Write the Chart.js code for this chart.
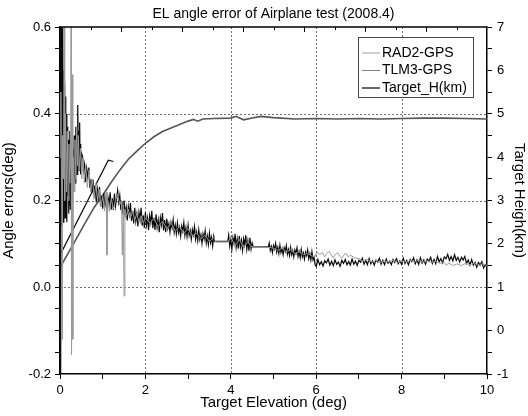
<!DOCTYPE html>
<html>
<head>
<meta charset="utf-8">
<script src="https://cdn.jsdelivr.net/npm/chart.js@4.4.1/dist/chart.umd.min.js"></script>
<style>
  body { margin: 0; background: #fff; }
  .chart-container { position: relative; width: 528px; height: 416px; }
</style>
</head>
<body>
<div class="chart-container"><canvas id="elChart"></canvas></div>
<script>
// TLM3-GPS (dark noisy trace); first three points are the jump line near the start
const tlmElev = [
  1.25, 1.13, 0.00, 0.01, 0.02, 0.03, 0.04, 0.05, 0.06, 0.07,
  0.08, 0.09, 0.10, 0.11, 0.12, 0.13, 0.14, 0.15, 0.16, 0.17,
  0.18, 0.19, 0.20, 0.21, 0.22, 0.23, 0.24, 0.25, 0.26, 0.27,
  0.28, 0.29, 0.30, 0.31, 0.32, 0.33, 0.34, 0.35, 0.36, 0.37,
  0.38, 0.39, 0.40, 0.41, 0.42, 0.43, 0.44, 0.45, 0.46, 0.47,
  0.48, 0.49, 0.50, 0.525, 0.55, 0.575, 0.60, 0.625, 0.65, 0.675,
  0.70, 0.725, 0.75, 0.775, 0.80, 0.825, 0.85, 0.875, 0.90, 0.925,
  0.95, 0.975, 1.00, 1.025, 1.05, 1.075, 1.10, 1.125, 1.15, 1.175,
  1.20, 1.225, 1.25, 1.275, 1.30, 1.325, 1.35, 1.375, 1.40, 1.425,
  1.45, 1.475, 1.50, 1.525, 1.55, 1.575, 1.60, 1.625, 1.65, 1.675,
  1.70, 1.725, 1.75, 1.775, 1.80, 1.825, 1.85, 1.875, 1.90, 1.925,
  1.95, 1.975, 2.00, 2.025, 2.05, 2.075, 2.10, 2.125, 2.15, 2.175,
  2.20, 2.225, 2.25, 2.275, 2.30, 2.325, 2.35, 2.375, 2.40, 2.425,
  2.45, 2.475, 2.50, 2.525, 2.55, 2.575, 2.60, 2.625, 2.65, 2.675,
  2.70, 2.725, 2.75, 2.775, 2.80, 2.825, 2.85, 2.875, 2.90, 2.925,
  2.95, 2.975, 3.00, 3.025, 3.05, 3.075, 3.10, 3.125, 3.15, 3.175,
  3.20, 3.225, 3.25, 3.275, 3.30, 3.325, 3.35, 3.375, 3.40, 3.425,
  3.45, 3.475, 3.50, 3.525, 3.55, 3.575, 3.60, 3.625, 3.65, 3.93,
  3.95, 3.975, 4.00, 4.025, 4.05, 4.075, 4.10, 4.125, 4.15, 4.175,
  4.20, 4.225, 4.25, 4.275, 4.30, 4.325, 4.35, 4.375, 4.40, 4.425,
  4.45, 4.475, 4.50, 4.525, 4.88, 4.90, 4.925, 4.95, 4.975, 5.00,
  5.025, 5.05, 5.075, 5.10, 5.125, 5.15, 5.175, 5.20, 5.225, 5.25,
  5.275, 5.30, 5.325, 5.35, 5.375, 5.40, 5.425, 5.45, 5.475, 5.50,
  5.525, 5.55, 5.575, 5.60, 5.625, 5.65, 5.675, 5.70, 5.725, 5.75,
  5.775, 5.80, 5.825, 5.85, 5.875, 5.90, 5.925, 5.95, 5.975, 6.00,
  6.04, 6.08, 6.12, 6.16, 6.20, 6.24, 6.28, 6.32, 6.36, 6.40,
  6.44, 6.48, 6.52, 6.56, 6.60, 6.64, 6.68, 6.72, 6.76, 6.80,
  6.84, 6.88, 6.92, 6.96, 7.00, 7.04, 7.08, 7.12, 7.16, 7.20,
  7.24, 7.28, 7.32, 7.36, 7.40, 7.44, 7.48, 7.52, 7.56, 7.60,
  7.64, 7.68, 7.72, 7.76, 7.80, 7.84, 7.88, 7.92, 7.96, 8.00,
  8.04, 8.08, 8.12, 8.16, 8.20, 8.24, 8.28, 8.32, 8.36, 8.40,
  8.44, 8.48, 8.52, 8.56, 8.60, 8.64, 8.68, 8.72, 8.76, 8.80,
  8.84, 8.88, 8.92, 8.96, 9.00, 9.04, 9.08, 9.12, 9.16, 9.20,
  9.24, 9.28, 9.32, 9.36, 9.40, 9.44, 9.48, 9.52, 9.56, 9.60,
  9.64, 9.68, 9.72, 9.76, 9.80, 9.84, 9.88, 9.92, 9.96, 10.00
];
const tlmErr = [
  0.290, 0.293, 0.074, 0.650, -0.250, 0.650, 0.140, 0.620, 0.170, 0.580,
  0.150, 0.500, 0.190, 0.470, 0.160, 0.440, 0.200, 0.400, 0.150, 0.370,
  0.210, 0.340, 0.170, 0.310, 0.190, 0.360, 0.180, 0.300, 0.210, 0.330,
  0.200, 0.280, 0.230, 0.320, 0.220, 0.350, 0.250, 0.300, 0.240, 0.370,
  0.270, 0.340, 0.260, 0.390, 0.420, 0.300, 0.360, 0.270, 0.380, 0.290,
  0.330, 0.260, 0.310, 0.303, 0.270, 0.284, 0.243, 0.274, 0.254, 0.276,
  0.229, 0.249, 0.217, 0.248, 0.213, 0.228, 0.196, 0.226, 0.206, 0.231,
  0.188, 0.211, 0.181, 0.217, 0.186, 0.203, 0.174, 0.207, 0.191, 0.219,
  0.179, 0.205, 0.178, 0.216, 0.187, 0.206, 0.224, 0.196, 0.212, 0.178,
  0.199, 0.167, 0.200, 0.168, 0.184, 0.154, 0.186, 0.168, 0.194, 0.153,
  0.176, 0.147, 0.183, 0.152, 0.169, 0.140, 0.173, 0.156, 0.183, 0.142,
  0.166, 0.137, 0.173, 0.143, 0.160, 0.132, 0.165, 0.149, 0.176, 0.136,
  0.160, 0.132, 0.168, 0.138, 0.155, 0.127, 0.160, 0.144, 0.171, 0.131,
  0.155, 0.127, 0.158, 0.136, 0.147, 0.127, 0.149, 0.137, 0.156, 0.127,
  0.143, 0.123, 0.148, 0.126, 0.138, 0.118, 0.141, 0.129, 0.149, 0.120,
  0.137, 0.117, 0.143, 0.120, 0.131, 0.111, 0.133, 0.121, 0.140, 0.111,
  0.127, 0.107, 0.132, 0.110, 0.121, 0.101, 0.123, 0.111, 0.130, 0.102,
  0.118, 0.099, 0.125, 0.103, 0.115, 0.095, 0.118, 0.105, 0.106, 0.106,
  0.120, 0.095, 0.110, 0.088, 0.114, 0.101, 0.123, 0.092, 0.111, 0.089,
  0.118, 0.093, 0.108, 0.085, 0.111, 0.097, 0.120, 0.088, 0.107, 0.084,
  0.114, 0.088, 0.102, 0.093, 0.093, 0.102, 0.085, 0.094, 0.080, 0.096,
  0.088, 0.101, 0.081, 0.092, 0.078, 0.097, 0.080, 0.089, 0.075, 0.091,
  0.083, 0.096, 0.076, 0.087, 0.073, 0.092, 0.075, 0.084, 0.070, 0.086,
  0.078, 0.091, 0.071, 0.082, 0.068, 0.087, 0.070, 0.079, 0.065, 0.081,
  0.073, 0.086, 0.066, 0.077, 0.063, 0.082, 0.063, 0.069, 0.052, 0.048,
  0.064, 0.052, 0.059, 0.049, 0.061, 0.056, 0.065, 0.051, 0.060, 0.050,
  0.063, 0.053, 0.058, 0.048, 0.062, 0.055, 0.064, 0.052, 0.059, 0.051,
  0.065, 0.053, 0.060, 0.050, 0.062, 0.058, 0.067, 0.053, 0.062, 0.052,
  0.066, 0.054, 0.061, 0.051, 0.063, 0.058, 0.067, 0.053, 0.062, 0.052,
  0.065, 0.055, 0.060, 0.052, 0.064, 0.057, 0.066, 0.054, 0.061, 0.053,
  0.067, 0.055, 0.062, 0.052, 0.064, 0.059, 0.068, 0.054, 0.063, 0.053,
  0.068, 0.056, 0.063, 0.053, 0.065, 0.060, 0.069, 0.055, 0.064, 0.054,
  0.071, 0.059, 0.066, 0.056, 0.070, 0.066, 0.076, 0.062, 0.071, 0.061,
  0.075, 0.062, 0.069, 0.058, 0.069, 0.063, 0.071, 0.055, 0.063, 0.051,
  0.064, 0.051, 0.057, 0.046, 0.057, 0.051, 0.059, 0.044, 0.052, 0.046
];

// RAD2-GPS (light grey trace with spikes)
const radElev = [
  0.00, 0.02, 0.04, 0.05, 0.06, 0.08, 0.10, 0.11, 0.13, 0.15,
  0.17, 0.19, 0.21, 0.23, 0.25, 0.26, 0.27, 0.29, 0.30, 0.31,
  0.33, 0.35, 0.37, 0.39, 0.41, 0.43, 0.45, 0.48, 0.51, 0.54,
  0.57, 0.60, 0.64, 0.68, 0.72, 0.76, 0.80, 0.84, 0.88, 0.92,
  0.96, 1.00, 1.04, 1.08, 1.10, 1.12, 1.16, 1.20, 1.25, 1.30,
  1.35, 1.40, 1.44, 1.46, 1.48, 1.50, 1.52, 1.56, 1.60, 1.65,
  1.70, 1.75, 1.80, 1.85, 1.90, 1.95, 2.00, 2.10, 2.20, 2.30,
  2.40, 2.50, 2.60, 2.70, 2.80, 2.90, 3.00, 3.10, 3.20, 3.30,
  3.40, 3.50, 3.60, 3.65, 3.93, 4.00, 4.10, 4.20, 4.30, 4.40,
  4.50, 4.55, 4.88, 5.00, 5.10, 5.20, 5.30, 5.40, 5.50, 5.60,
  5.70, 5.80, 5.90, 5.97, 6.02, 6.08, 6.15, 6.20, 6.25, 6.30,
  6.35, 6.40, 6.45, 6.50, 6.55, 6.60, 6.65, 6.70, 6.75, 6.80,
  6.90, 7.00, 7.10, 7.20, 7.30, 7.40, 7.50, 7.60, 7.70, 7.80,
  7.90, 8.00, 8.10, 8.20, 8.30, 8.40, 8.50, 8.60, 8.70, 8.80,
  8.90, 9.00, 9.05, 9.10, 9.20, 9.30, 9.40, 9.50, 9.60, 9.70,
  9.80, 9.90, 10.00
];
const radErr = [
  0.300, 0.450, 0.200, -0.120, 0.350, 0.250, 0.650, 0.200, 0.400, 0.220,
  0.360, 0.200, 0.330, 0.240, 0.300, 0.650, -0.155, 0.490, -0.120, 0.300,
  0.220, 0.340, 0.250, 0.370, 0.280, 0.350, 0.270, 0.320, 0.250, 0.300,
  0.240, 0.280, 0.230, 0.270, 0.220, 0.250, 0.205, 0.240, 0.200, 0.225,
  0.185, 0.210, 0.180, 0.220, 0.074, 0.200, 0.175, 0.205, 0.180, 0.200,
  0.215, 0.190, 0.200, 0.074, 0.190, -0.020, 0.180, 0.165, 0.180, 0.160,
  0.175, 0.155, 0.170, 0.150, 0.165, 0.148, 0.160, 0.148, 0.158, 0.140,
  0.152, 0.135, 0.148, 0.130, 0.140, 0.125, 0.135, 0.118, 0.125, 0.112,
  0.120, 0.105, 0.115, 0.104, 0.104, 0.115, 0.095, 0.110, 0.092, 0.105,
  0.092, 0.093, 0.092, 0.090, 0.085, 0.090, 0.082, 0.086, 0.078, 0.082,
  0.075, 0.078, 0.072, 0.070, 0.082, 0.075, 0.080, 0.070, 0.078, 0.083,
  0.075, 0.068, 0.076, 0.080, 0.072, 0.067, 0.075, 0.078, 0.070, 0.074,
  0.068, 0.066, 0.060, 0.064, 0.058, 0.062, 0.057, 0.061, 0.058, 0.062,
  0.057, 0.061, 0.058, 0.062, 0.059, 0.062, 0.058, 0.061, 0.057, 0.060,
  0.055, 0.057, 0.050, 0.056, 0.050, 0.054, 0.050, 0.055, 0.052, 0.056,
  0.050, 0.054, 0.050
];

// Target height (km), right axis
const heightElev = [0.0, 0.2, 0.4, 0.6, 0.8, 1.0, 1.2, 1.4, 1.6, 1.8, 2.0, 2.2, 2.4, 2.6, 2.8, 3.0,
  3.13, 3.22, 3.35, 3.6, 4.0, 4.12, 4.3, 4.5, 4.7, 5.0, 5.5, 6.0, 6.5, 7.0, 7.5, 8.0, 8.5, 9.0, 9.5, 10.0];
const heightKm = [1.45, 1.80, 2.15, 2.50, 2.84, 3.12, 3.42, 3.70, 3.95, 4.14, 4.32, 4.47, 4.59, 4.67, 4.75, 4.83,
  4.87, 4.83, 4.88, 4.89, 4.90, 4.94, 4.86, 4.90, 4.94, 4.91, 4.88, 4.89, 4.88, 4.89, 4.88, 4.89, 4.90, 4.90, 4.89, 4.88];

// dotted grid positions
const gridElev = [2, 4, 6, 8];
const gridErr = [0.0, 0.2, 0.4];

const seriesNames = ['RAD2-GPS', 'TLM3-GPS', 'Target_H(km)'];
const seriesColors = ['#9a9a9a', '#0a0a0a', '#555555'];
const chartTitle = 'EL angle error of Airplane test (2008.4)';

const FONT = 'Arial, "Liberation Sans", sans-serif';
const toPoints = (xs, ys) => xs.map((x, i) => ({ x: x, y: ys[i] }));
const isMult = (v, s) => Math.abs(v / s - Math.round(v / s)) < 1e-6;

// dotted grid drawn under the data
const dottedGrid = {
  id: 'dottedGrid',
  beforeDatasetsDraw(chart) {
    const { ctx, chartArea: a, scales } = chart;
    ctx.save();
    ctx.strokeStyle = '#6e6e6e';
    ctx.lineWidth = 1;
    ctx.setLineDash([2, 2]);
    gridElev.forEach((v) => {
      const px = Math.round(scales.x.getPixelForValue(v)) + 0.5;
      ctx.beginPath();
      ctx.moveTo(px, a.top);
      ctx.lineTo(px, a.bottom);
      ctx.stroke();
    });
    gridErr.forEach((v) => {
      const py = Math.round(scales.y.getPixelForValue(v)) + 0.5;
      ctx.beginPath();
      ctx.moveTo(a.left, py);
      ctx.lineTo(a.right, py);
      ctx.stroke();
    });
    ctx.restore();
  }
};

const frame = {
  id: 'frame',
  afterDraw(chart) {
    const { ctx, chartArea: a, scales } = chart;
    ctx.save();
    // top border + inside ticks
    ctx.strokeStyle = '#000';
    ctx.lineWidth = 1.5;
    ctx.beginPath();
    ctx.moveTo(a.left, a.top);
    ctx.lineTo(a.right, a.top);
    ctx.stroke();
    ctx.lineWidth = 1;
    for (let i = 1; i < 14; i++) {
      const px = Math.round(scales.xTop.getPixelForValue(i)) + 0.5;
      ctx.beginPath();
      ctx.moveTo(px, a.top);
      ctx.lineTo(px, a.top + (i % 2 === 0 ? 5 : 3));
      ctx.stroke();
    }
    // title
    ctx.fillStyle = '#000';
    ctx.font = '14px ' + FONT;
    ctx.textAlign = 'center';
    ctx.textBaseline = 'middle';
    ctx.fillText(chartTitle, (a.left + a.right) / 2, 14);
    // legend box
    const bx = 358, by = 37, bw = 115, bh = 60;
    ctx.fillStyle = '#fff';
    ctx.fillRect(bx, by, bw, bh);
    ctx.strokeStyle = '#444';
    ctx.lineWidth = 1;
    ctx.strokeRect(bx + 0.5, by + 0.5, bw, bh);
    ctx.textAlign = 'left';
    ctx.font = '14px ' + FONT;
    const legendColors = ['#a0a0a0', '#808080', '#444444'];
    chart.data.datasets.forEach((ds, i) => {
      const y = by + 16 + i * 17.5;
      ctx.strokeStyle = legendColors[i];
      ctx.lineWidth = i === 2 ? 1.6 : 1;
      ctx.beginPath();
      ctx.moveTo(bx + 4, y);
      ctx.lineTo(bx + 22, y);
      ctx.stroke();
      ctx.fillStyle = '#000';
      ctx.fillText(ds.label, bx + 24, y);
    });
    ctx.restore();
  }
};

new Chart(document.getElementById('elChart'), {
  type: 'line',
  data: {
    datasets: [
      { label: seriesNames[0], data: toPoints(radElev, radErr), borderColor: seriesColors[0], borderWidth: 1, yAxisID: 'y' },
      { label: seriesNames[1], data: toPoints(tlmElev, tlmErr), borderColor: seriesColors[1], borderWidth: 1.2, yAxisID: 'y' },
      { label: seriesNames[2], data: toPoints(heightElev, heightKm), borderColor: seriesColors[2], borderWidth: 1.6, yAxisID: 'y2' }
    ]
  },
  options: {
    responsive: true,
    maintainAspectRatio: false,
    animation: false,
    layout: { padding: { top: 27, left: 0, right: 0, bottom: 0 } },
    elements: { point: { radius: 0 }, line: { tension: 0 } },
    plugins: { legend: { display: false }, tooltip: { enabled: false } },
    scales: {
      x: {
        type: 'linear', position: 'bottom', min: 0, max: 10,
        afterFit: (s) => { s.height = 42; },
        ticks: {
          stepSize: 1, autoSkip: false, maxRotation: 0, padding: 4, color: '#000',
          font: { family: FONT, size: 13 },
          callback: (v) => (isMult(v, 2) ? String(v) : '')
        },
        grid: { drawOnChartArea: false, tickColor: '#000', tickLength: 5 },
        border: { color: '#000', width: 1.5 },
        title: { display: true, text: 'Target Elevation (deg)', color: '#000', font: { family: FONT, size: 15 }, padding: { top: 0, bottom: 4 } }
      },
      xTop: {
        type: 'linear', position: 'top', min: 0, max: 14, display: false
      },
      y: {
        type: 'linear', position: 'left', min: -0.2, max: 0.6,
        afterFit: (s) => { s.width = 60; },
        ticks: {
          stepSize: 0.05, maxTicksLimit: 20, autoSkip: false, padding: 4, color: '#000',
          font: { family: FONT, size: 13 },
          callback: (v) => (isMult(v, 0.2) ? v.toFixed(1) : '')
        },
        grid: { drawOnChartArea: false, tickColor: '#000', tickLength: 5 },
        border: { color: '#000', width: 1.5 },
        title: { display: true, text: 'Angle errors(deg)', color: '#000', font: { family: FONT, size: 15 }, padding: { top: 0, bottom: 4 } }
      },
      y2: {
        type: 'linear', position: 'right', min: -1, max: 7,
        afterFit: (s) => { s.width = 41; },
        ticks: {
          stepSize: 0.5, maxTicksLimit: 20, autoSkip: false, padding: 5, color: '#000',
          font: { family: FONT, size: 13 },
          callback: (v) => (isMult(v, 1) ? String(Math.round(v)) : '')
        },
        grid: { drawOnChartArea: false, tickColor: '#000', tickLength: 5 },
        border: { color: '#000', width: 1.5 },
        title: { display: true, text: 'Target Heigh(km)', color: '#000', font: { family: FONT, size: 15 }, padding: { top: 0, bottom: 4 } }
      }
    }
  },
  plugins: [dottedGrid, frame]
});
</script>
</body>
</html>
